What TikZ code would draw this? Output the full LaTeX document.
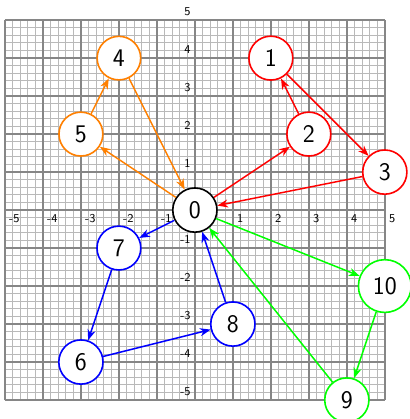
\documentclass[tikz,border=0pt]{standalone}
\usetikzlibrary{arrows.meta}
\begin{document}
\begin{tikzpicture}[x=1cm,y=1cm,
  vtx/.style={circle, draw, fill=white, line width=1.2pt, font=\fontsize{19}{22}\sffamily\selectfont, inner sep=6.2pt},
  edg/.style={line width=1.1pt, -{Stealth[length=8pt,width=6pt,inset=2.5pt]}},
  axlab/.style={font=\sffamily\small, inner sep=3pt}]
\useasboundingbox (-5.13,-5.5) rectangle (5.66,5.53);
\draw[gray!55, line width=0.7pt, step=0.2] (-5,-5) grid (5,5);
\draw[gray!95, line width=1.3pt, step=1] (-5,-5) grid (5,5);
\foreach \x in {-5,-4,-3,-2,-1,1,2,3,4,5} {
  \node[axlab, anchor=north west] (xl\x) at (\x,0) {\x};
  \node[axlab, anchor=south east] (yl\x) at (0,\x) {\x};
}
\node[vtx, draw=black]  (n0)  at (0,0)  {0};
\node[vtx, draw=red]    (n1)  at (2,4)  {1};
\node[vtx, draw=red]    (n2)  at (3,2)  {2};
\node[vtx, draw=red]    (n3)  at (5,1)  {3};
\node[vtx, draw=orange] (n4)  at (-2,4) {4};
\node[vtx, draw=orange] (n5)  at (-3,2) {5};
\node[vtx, draw=blue]   (n6)  at (-3,-4) {6};
\node[vtx, draw=blue]   (n7)  at (-2,-1) {7};
\node[vtx, draw=blue]   (n8)  at (1,-3) {8};
\node[vtx, draw=green]  (n9)  at (4,-5) {9};
\node[vtx, draw=green]  (n10) at (5,-2) {10};
\draw[edg, red] (n0) -- (n2);
\draw[edg, red] (n2) -- (n1);
\draw[edg, red] (n1) -- (n3);
\draw[edg, red] (n3) -- (n0);
\draw[edg, orange] (n0) -- (n5);
\draw[edg, orange] (n5) -- (n4);
\draw[edg, orange] (n4) -- (n0);
\draw[edg, blue] (n0) -- (n7);
\draw[edg, blue] (n7) -- (n6);
\draw[edg, blue] (n6) -- (n8);
\draw[edg, blue] (n8) -- (n0);
\draw[edg, green] (n0) -- (n10);
\draw[edg, green] (n10) -- (n9);
\draw[edg, green] (n9) -- (n0);
\end{tikzpicture}
\end{document}
